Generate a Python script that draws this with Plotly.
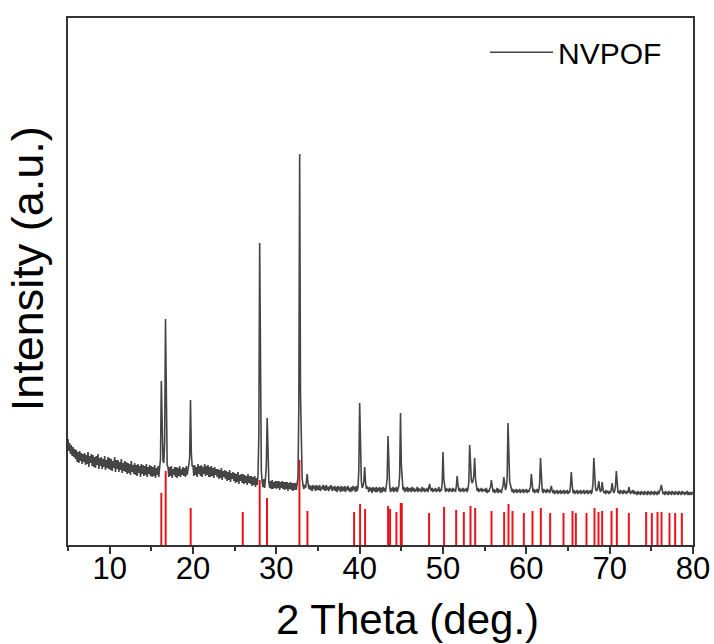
import numpy as np
import plotly.graph_objects as go

# XRD pattern, 2-theta grid 5.0 .. 80.0 step 0.1 (arbitrary units)
two_theta_start = 5.0
two_theta_step = 0.1
intensity = [
    106, 94, 102, 91, 100, 89, 98, 88, 96, 86,  # 5
    95, 83, 93, 82, 94, 84, 92, 81, 91, 83,     # 6
    92, 80, 90, 81, 93, 78, 89, 82, 91, 79,     # 7
    90, 78, 88, 77, 89, 80, 91, 76, 87, 79,     # 8
    88, 76, 86, 78, 89, 75, 85, 77, 88, 76,     # 9
    87, 75, 86, 74, 84, 77, 88, 73, 85, 76,     # 10
    85, 73, 83, 75, 86, 72, 82, 74, 84, 73,     # 11
    83, 71, 82, 72, 81, 70, 84, 73, 80, 71,     # 12
    82, 70, 80, 69, 81, 72, 79, 68, 81, 71,     # 13
    80, 69, 79, 70, 81, 68, 78, 71, 80, 69,     # 14
    79, 68, 78, 69, 80, 67, 77, 70, 79, 68,     # 15
    78, 86, 164, 97, 84, 82, 104, 226, 108, 80, # 16
    78, 68, 78, 69, 79, 67, 76, 70, 78, 68,     # 17
    78, 67, 77, 69, 79, 68, 76, 70, 78, 69,     # 18
    77, 68, 79, 70, 76, 80, 88, 145, 92, 79,    # 19
    79, 69, 80, 70, 78, 68, 81, 71, 79, 69,     # 20
    80, 68, 78, 71, 81, 69, 79, 70, 80, 68,     # 21
    78, 68, 79, 69, 77, 67, 78, 70, 76, 68,     # 22
    76, 66, 75, 67, 77, 65, 74, 68, 75, 66,     # 23
    74, 64, 73, 65, 75, 63, 72, 66, 73, 64,     # 24
    72, 62, 71, 63, 73, 61, 70, 64, 71, 62,     # 25
    71, 61, 70, 62, 69, 60, 71, 62, 69, 61,     # 26
    69, 59, 68, 60, 69, 58, 67, 60, 70, 110,    # 27
    302, 118, 74, 63, 58, 66, 57, 67, 80, 127,  # 28
    82, 64, 57, 64, 56, 65, 56, 63, 57, 64,     # 29
    56, 64, 57, 64, 55, 63, 57, 64, 56, 63,     # 30
    55, 63, 56, 63, 54, 62, 56, 63, 55, 62,     # 31
    54, 62, 55, 62, 55, 61, 68, 140, 391, 150,  # 32
    78, 66, 60, 56, 60, 57, 63, 71, 62, 56,     # 33
    60, 55, 59, 54, 60, 56, 59, 54, 60, 55,     # 34
    59, 55, 60, 54, 58, 56, 60, 55, 59, 54,     # 35
    60, 55, 58, 54, 59, 56, 60, 54, 58, 55,     # 36
    59, 54, 58, 53, 59, 55, 58, 53, 59, 54,     # 37
    58, 54, 59, 53, 58, 55, 59, 54, 57, 53,     # 38
    58, 54, 59, 55, 58, 53, 59, 54, 58, 75,     # 39
    142, 84, 64, 57, 59, 63, 78, 63, 56, 58,    # 40
    57, 53, 58, 54, 57, 52, 58, 54, 57, 53,     # 41
    58, 53, 57, 54, 58, 52, 57, 53, 58, 54,     # 42
    57, 53, 58, 66, 109, 72, 58, 53, 57, 54,    # 43
    58, 53, 57, 54, 58, 53, 57, 59, 70, 132,    # 44
    80, 61, 55, 58, 53, 57, 54, 58, 53, 57,     # 45
    54, 57, 53, 58, 54, 57, 53, 56, 54, 58,     # 46
    53, 57, 54, 56, 53, 58, 54, 57, 53, 56,     # 47
    54, 57, 53, 58, 61, 56, 54, 57, 53, 56,     # 48
    54, 57, 53, 56, 54, 58, 53, 56, 54, 62,     # 49
    93, 66, 56, 53, 57, 54, 56, 53, 57, 54,     # 50
    56, 53, 57, 54, 56, 53, 59, 69, 60, 54,     # 51
    57, 53, 56, 54, 57, 53, 56, 54, 57, 53,     # 52
    56, 63, 100, 78, 65, 62, 64, 70, 87, 66,    # 53
    58, 54, 57, 53, 56, 54, 57, 53, 56, 54,     # 54
    56, 53, 57, 52, 55, 53, 56, 58, 65, 58,     # 55
    53, 56, 52, 55, 53, 57, 52, 56, 53, 55,     # 56
    52, 56, 59, 68, 61, 55, 58, 68, 122, 72,    # 57
    63, 60, 56, 53, 56, 52, 55, 53, 56, 52,     # 58
    55, 53, 56, 52, 55, 53, 56, 52, 55, 53,     # 59
    56, 52, 55, 53, 56, 58, 71, 59, 53, 56,     # 60
    52, 55, 53, 56, 52, 55, 62, 87, 64, 55,     # 61
    52, 56, 53, 55, 52, 56, 53, 55, 52, 56,     # 62
    59, 54, 52, 55, 51, 54, 52, 55, 51, 54,     # 63
    52, 55, 51, 54, 52, 55, 51, 54, 52, 55,     # 64
    51, 54, 52, 60, 73, 60, 52, 55, 51, 54,     # 65
    52, 55, 51, 54, 52, 55, 51, 54, 52, 55,     # 66
    51, 54, 52, 55, 51, 54, 52, 55, 51, 54,     # 67
    62, 87, 66, 57, 54, 55, 58, 64, 56, 53,     # 68
    55, 63, 56, 52, 54, 51, 55, 52, 54, 51,     # 69
    54, 52, 56, 62, 55, 52, 54, 59, 74, 58,     # 70
    52, 54, 51, 55, 52, 54, 51, 55, 52, 54,     # 71
    51, 54, 52, 58, 53, 51, 54, 52, 55, 51,     # 72
    54, 51, 53, 50, 54, 51, 53, 50, 54, 51,     # 73
    53, 50, 54, 51, 53, 50, 54, 51, 53, 50,     # 74
    54, 51, 53, 50, 54, 51, 53, 50, 54, 51,     # 75
    54, 56, 60, 55, 51, 53, 50, 54, 51, 53,     # 76
    50, 54, 51, 53, 50, 54, 51, 53, 50, 54,     # 77
    51, 53, 50, 54, 51, 53, 50, 54, 51, 53,     # 78
    50, 53, 51, 54, 50, 53, 51, 52, 50, 53,     # 79
    51,                                         # 80
]
two_theta = [round(two_theta_start + i * two_theta_step, 1) for i in range(len(intensity))]

# Reference (standard) stick pattern
ref_pos = [16.2, 16.72, 19.72, 25.97, 28.0, 28.88, 32.77, 33.73, 39.33, 40.05, 40.65,
           43.41, 43.65, 44.41, 44.93, 45.05, 48.33, 50.13, 51.58, 52.5, 53.3, 53.86,
           55.82, 57.34, 57.86, 58.34, 59.7, 60.74, 61.74, 62.86, 64.46, 65.54, 65.94,
           67.22, 68.18, 68.66, 69.1, 70.22, 70.86, 72.3, 74.38, 75.06, 75.74, 76.22,
           77.18, 77.86, 78.66]
ref_int = [52, 74, 37, 33, 65, 47, 85, 34, 33, 41, 36,
           39, 36, 33, 42, 42, 32, 38, 35, 33, 39, 37,
           34, 33, 41, 34, 32, 34, 37, 32, 32, 34, 32,
           32, 37, 33, 34, 34, 37, 32, 33, 32, 33, 33,
           32, 32, 32]

x_ticks = [10, 20, 30, 40, 50, 60, 70, 80]
x_title = "2 Theta (deg.)"
y_title = "Intensity (a.u.)"

stick_x, stick_y = [], []
for p, h in zip(ref_pos, ref_int):
    stick_x += [p, p, None]
    stick_y += [0, h, None]

FONT = "Liberation Sans, Arial, sans-serif"

fig = go.Figure()
fig.add_trace(go.Scatter(x=stick_x, y=stick_y, mode="lines",
                         line=dict(color="#e8141c", width=2), showlegend=False,
                         hoverinfo="skip"))
fig.add_trace(go.Scatter(x=two_theta, y=intensity, mode="lines", name="NVPOF",
                         line=dict(color="#454545", width=1.6)))

fig.update_layout(
    width=714, height=644,
    margin=dict(l=68, r=21, t=18, b=99),
    paper_bgcolor="white", plot_bgcolor="white",
    font=dict(family=FONT, color="black"),
    legend=dict(x=0.6672, y=0.935, xanchor="left", yanchor="middle",
                font=dict(size=30, family=FONT), itemwidth=63,
                bgcolor="rgba(0,0,0,0)"),
    xaxis=dict(range=[5, 80], tickvals=x_ticks, ticks="outside", ticklen=7,
               tickwidth=1.5, tickcolor="#333", showline=True, mirror=True,
               linecolor="#333", linewidth=1.6, showgrid=False, zeroline=False,
               automargin=False, ticklabelstandoff=-12,
               tickfont=dict(size=31, family=FONT),
               minor=dict(tickvals=[5, 15, 25, 35, 45, 55, 65, 75], ticks="outside",
                          ticklen=4, tickwidth=1.5, tickcolor="#333")),
    yaxis=dict(range=[0, 527], showticklabels=False, ticks="", showline=True,
               mirror=True, linecolor="#333", linewidth=1.6, showgrid=False,
               zeroline=False, automargin=False),
    annotations=[
        dict(text=x_title, xref="paper", yref="paper", x=0.5424, y=-0.1423,
             xanchor="center", yanchor="middle", showarrow=False,
             font=dict(size=42, family=FONT, color="black")),
        dict(text=y_title, xref="paper", yref="paper", x=-0.0648, y=0.524,
             xanchor="center", yanchor="middle", showarrow=False, textangle=-90,
             font=dict(size=45, family=FONT, color="black")),
    ],
)

fig.write_html("out.html")
